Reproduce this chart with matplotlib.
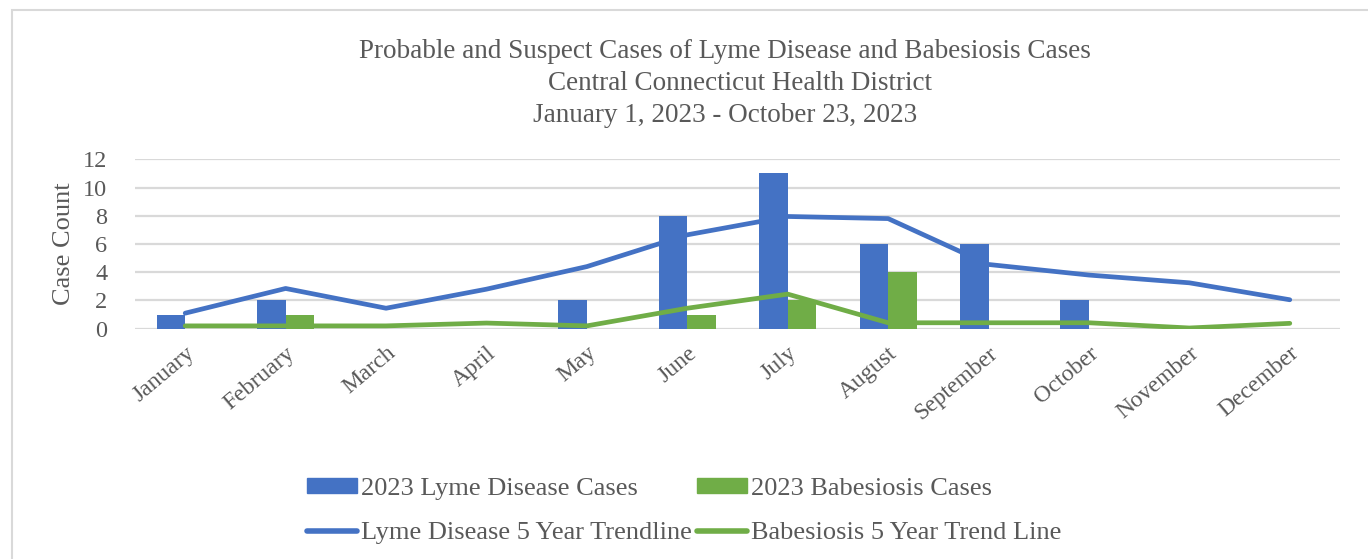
import numpy as np
import matplotlib
matplotlib.use('Agg')
from matplotlib import pyplot as plt
from matplotlib.patches import Rectangle
from matplotlib.lines import Line2D

months = ['January', 'February', 'March', 'April', 'May', 'June', 'July',
          'August', 'September', 'October', 'November', 'December']
lyme_2023 = [1, 2, 0, 0, 2, 8, 11, 6, 6, 2, 0, 0]
babesiosis_2023 = [0, 1, 0, 0, 0, 1, 2, 4, 0, 0, 0, 0]
lyme_trend = [1.1, 2.85, 1.45, 2.8, 4.4, 6.65, 7.95, 7.8, 4.55, 3.8, 3.25, 2.05]
babesiosis_trend = [0.2, 0.2, 0.2, 0.4, 0.2, 1.45, 2.45, 0.42, 0.42, 0.42, 0.05, 0.38]

blue = '#4472c4'
green = '#70ad47'
text_gray = '#595959'
grid_gray = '#d9d9d9'

plt.rcParams['font.family'] = ['Liberation Serif', 'DejaVu Serif']

fig = plt.figure(figsize=(13.68, 5.59), dpi=100)
fig.patches.append(Rectangle((12 / 1368, -0.05), 1.2, 1 - 10 / 559 + 0.05,
                             transform=fig.transFigure, fill=False,
                             edgecolor=grid_gray, linewidth=1.5))

ax = fig.add_axes([135 / 1368, 1 - 328.7 / 559, 1205 / 1368, 169.4 / 559])

x = np.arange(len(months))
w = 0.285
ax.bar(x - w / 2, lyme_2023, w, color=blue, zorder=2)
ax.bar(x + w / 2, babesiosis_2023, w, color=green, zorder=2)
ax.plot(x, lyme_trend, color=blue, linewidth=3.4, solid_capstyle='round', zorder=3)
ax.plot(x, babesiosis_trend, color=green, linewidth=3.4, solid_capstyle='round', zorder=3)

ax.set_xlim(-0.5, 11.5)
ax.set_ylim(0, 12)
ax.set_yticks(range(0, 13, 2))
ax.yaxis.grid(True, color=grid_gray, linewidth=1.6, zorder=0)
ax.set_axisbelow(True)
for s in ax.spines.values():
    s.set_visible(False)
ax.tick_params(axis='both', length=0, colors=text_gray)
ax.tick_params(axis='y', pad=20, labelsize=17.5)
ax.tick_params(axis='x', pad=10, labelsize=17)
ax.set_xticks(x)
ax.set_xticklabels(months, rotation=40, ha='right', rotation_mode='anchor')
ax.set_ylabel('Case Count', color=text_gray, fontsize=19, labelpad=6)

fig.text(0.53, 1 - 51 / 559, 'Probable and Suspect Cases of Lyme Disease and Babesiosis Cases',
         ha='center', va='center', fontsize=19.5, color=text_gray)
fig.text(0.541, 1 - 83 / 559, 'Central Connecticut Health District',
         ha='center', va='center', fontsize=19.5, color=text_gray)
fig.text(0.53, 1 - 115 / 559, 'January 1, 2023 - October 23, 2023',
         ha='center', va='center', fontsize=19.5, color=text_gray)

handles = [
    Rectangle((0, 0), 1, 1, color=blue),
    Line2D([], [], color=blue, linewidth=4, solid_capstyle='round'),
    Rectangle((0, 0), 1, 1, color=green),
    Line2D([], [], color=green, linewidth=4, solid_capstyle='round'),
]
labels = ['2023 Lyme Disease Cases', 'Lyme Disease 5 Year Trendline',
          '2023 Babesiosis Cases', 'Babesiosis 5 Year Trend Line']
leg = fig.legend(handles, labels, ncol=2, loc='center', bbox_to_anchor=(0.5, 1 - 511 / 559),
                 frameon=False, fontsize=19, handlelength=1.9, handleheight=0.53,
                 handletextpad=0.15, columnspacing=0.2, labelspacing=0.85)
for t in leg.get_texts():
    t.set_color(text_gray)

fig.savefig('out.png', dpi=100)
